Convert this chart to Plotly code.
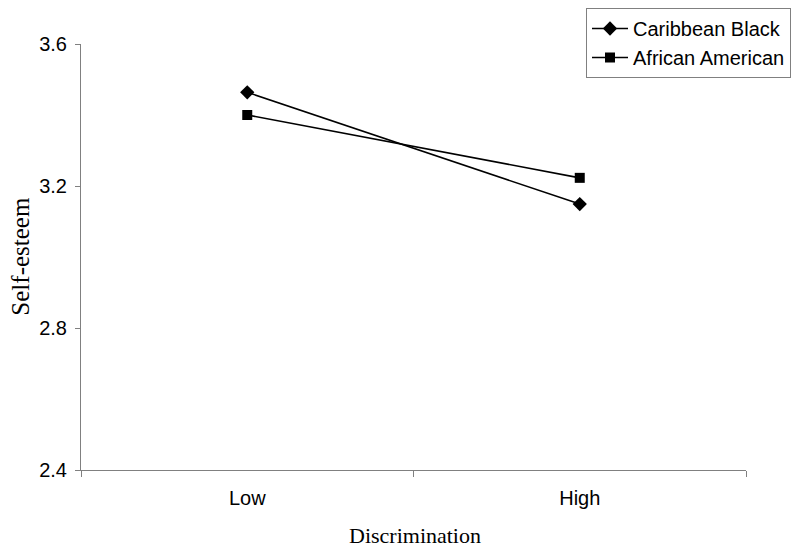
import plotly.graph_objects as go

categories = ["Low", "High"]
caribbean_black = [3.464, 3.149]
african_american = [3.40, 3.223]
y_ticks = [2.4, 2.8, 3.2, 3.6]
x_title = "Discrimination"
y_title = "Self-esteem"

fig = go.Figure()
fig.add_trace(go.Scatter(x=categories, y=caribbean_black, name="Caribbean Black",
                         mode="lines+markers", legendgroup="a",
                         line=dict(color="black", width=1.6),
                         marker=dict(symbol="diamond", size=11, color="black")))
fig.add_trace(go.Scatter(x=categories, y=african_american, name="African American",
                         mode="lines+markers", legendgroup="b",
                         line=dict(color="black", width=1.6),
                         marker=dict(symbol="square", size=10, color="black")))

tick_font = dict(family="Arial, Liberation Sans", size=20, color="black")
serif = "Liberation Serif, Times New Roman"

# page body has an 8px margin: figure is sized/offset to compensate
fig.update_layout(
    width=792, height=542,
    margin=dict(l=73, r=54, t=36, b=80, autoexpand=False),
    paper_bgcolor="white", plot_bgcolor="white",
    font=dict(family="Arial, Liberation Sans", size=20, color="black"),
    legend=dict(xref="container", yref="container", x=0.7298, y=1.0,
                xanchor="left", yanchor="top", itemwidth=36,
                bordercolor="#808080", borderwidth=1, bgcolor="white",
                font=dict(family="Arial, Liberation Sans", size=20),
                tracegroupgap=0),
    xaxis=dict(type="category", range=[-0.5, 1.5], tickson="boundaries",
               ticks="outside", ticklen=6, tickcolor="#808080",
               showline=True, linecolor="#808080", linewidth=1,
               showgrid=False, zeroline=False, ticklabelstandoff=10,
               tickfont=tick_font, automargin=False),
    yaxis=dict(range=[2.4, 3.6], tickvals=y_ticks, tickformat=".1f",
               ticks="outside", ticklen=5, tickcolor="#808080",
               showline=True, linecolor="#808080", linewidth=1,
               showgrid=False, zeroline=False, ticklabelstandoff=4,
               tickfont=tick_font, automargin=False),
    annotations=[
        dict(text=x_title, xref="paper", yref="paper", x=0.503, y=-0.153,
             xanchor="center", yanchor="middle", showarrow=False,
             font=dict(family=serif, size=22, color="black")),
        dict(text=y_title, xref="paper", yref="paper", x=-0.091, y=0.502,
             xanchor="center", yanchor="middle", showarrow=False, textangle=-90,
             font=dict(family=serif, size=25, color="black")),
    ],
)

fig.write_html("out.html")
